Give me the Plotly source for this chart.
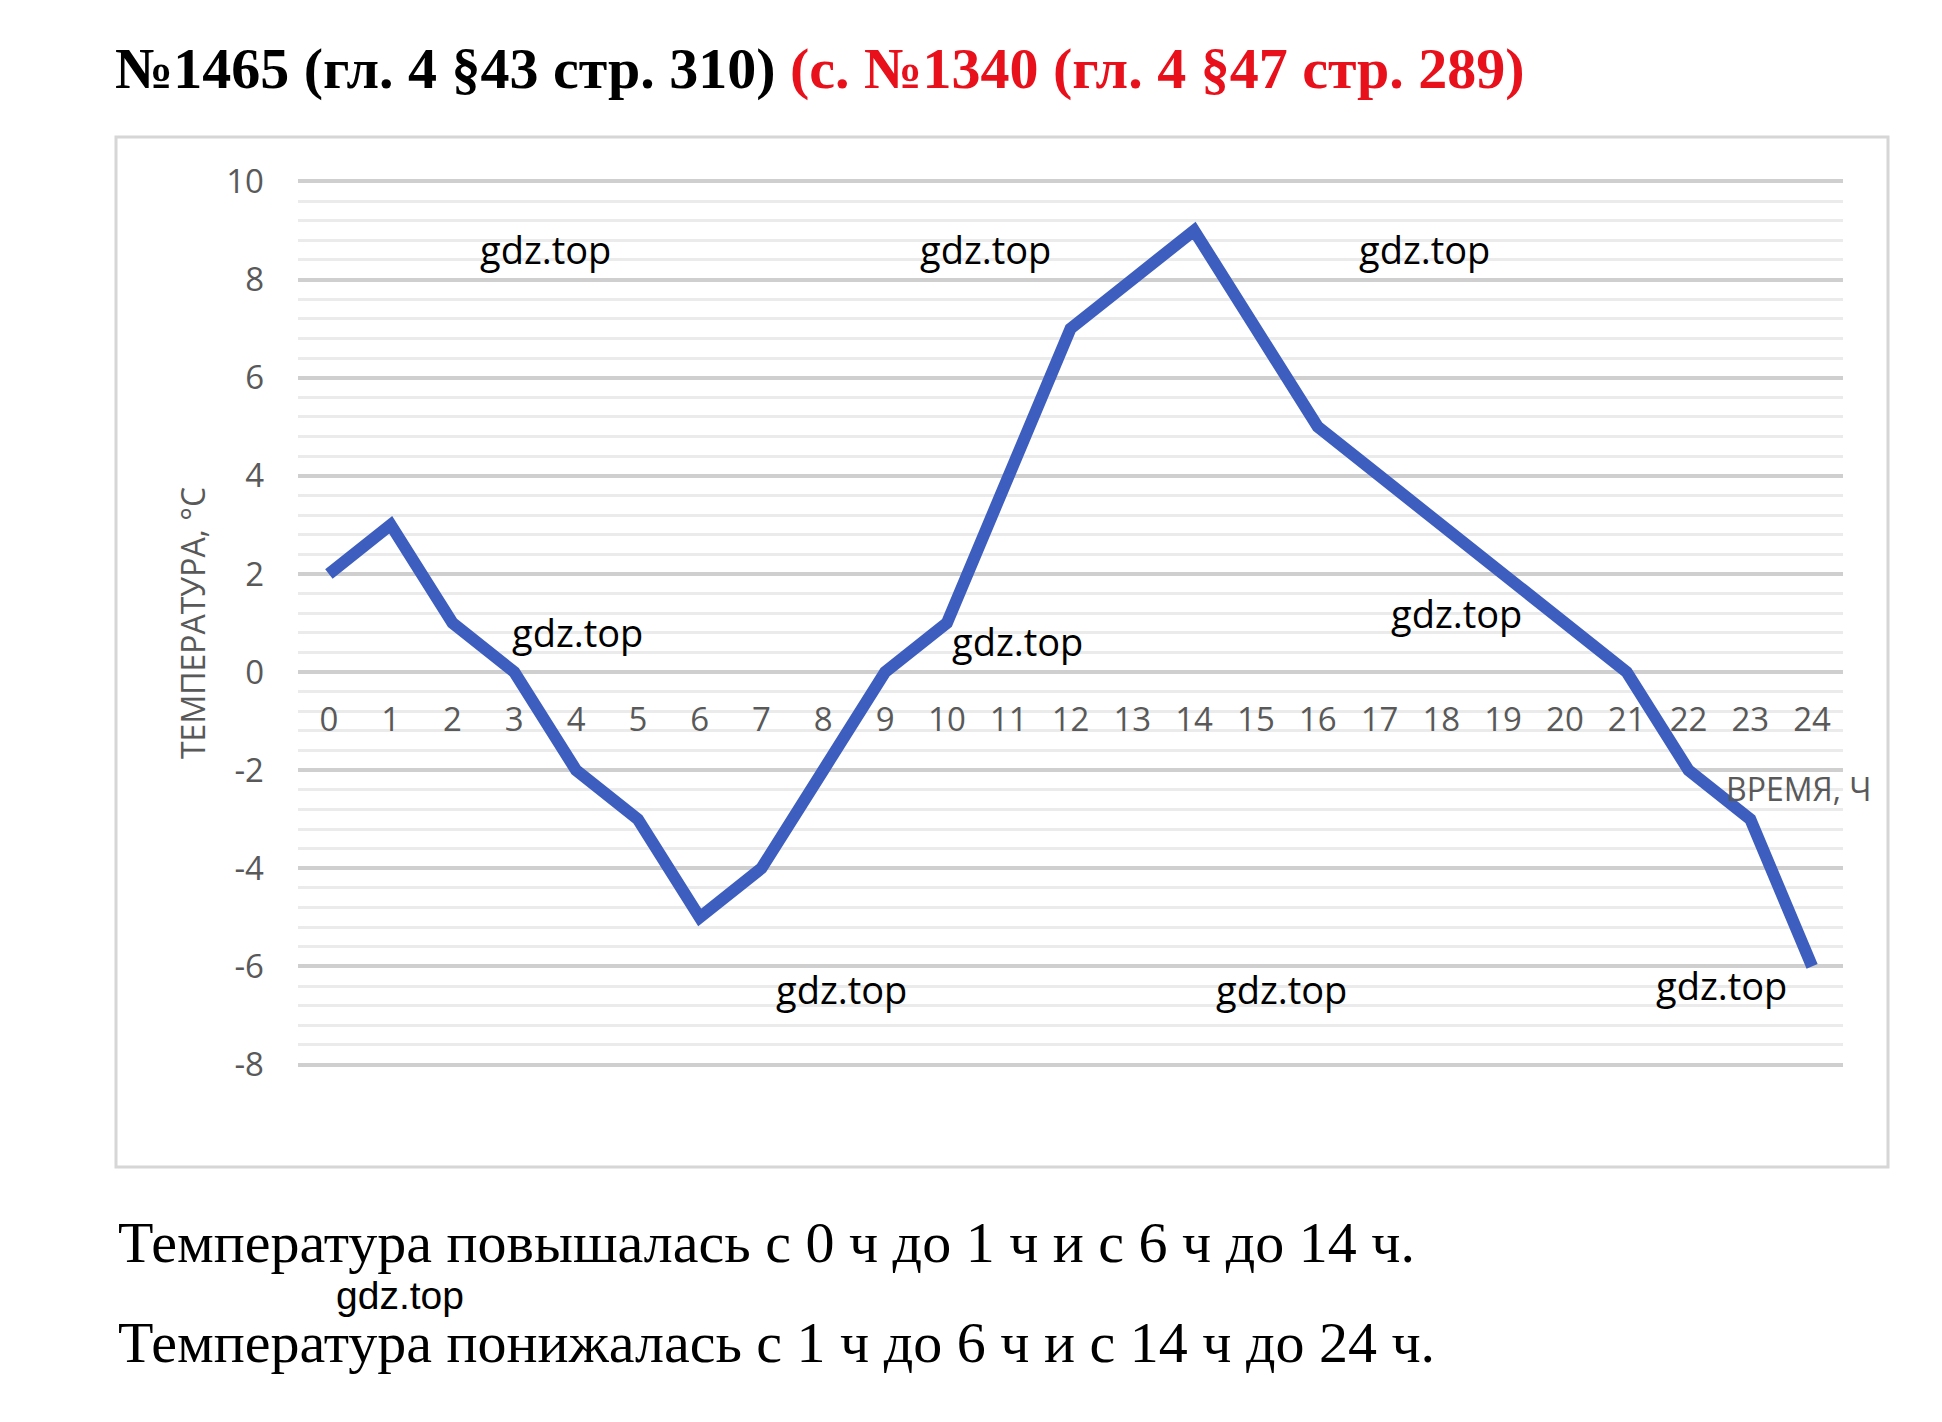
import plotly.graph_objects as go

# ---- data ----
hours = list(range(0, 25))
temps = [2, 3, 1, 0, -2, -3, -5, -4, -2, 0, 1, 4, 7, 8, 9, 7, 5, 4, 3, 2, 1, 0, -2, -3, -6]
ytick_vals = [10, 8, 6, 4, 2, 0, -2, -4, -6, -8]
ytick_text = ["10", "8", "6", "4", "2", "0", "-2", "-4", "-6", "-8"]
xtick_text = [str(h) for h in hours]

title_black = "№1465 (гл. 4 §43 стр. 310)"
title_red = "(с. №1340 (гл. 4 §47 стр. 289)"
y_title = "ТЕМПЕРАТУРА, °С"
x_title = "ВРЕМЯ, Ч"
line1 = "Температура повышалась с 0 ч до 1 ч и с 6 ч до 14 ч."
line2 = "Температура понижалась с 1 ч до 6 ч и с 14 ч до 24 ч."
wm = "gdz.top"

# ---- layout geometry (pixels) ----
W, H = 1942, 1422
L, R, T, B = 298, 1843, 180, 1066
YMIN, YMAX = -8, 10
PADY = 0.03


def px_x(p):
    return (p - L) / (R - L)


def px_y(p):
    return (B - p) / (B - T)


fig = go.Figure()
fig.add_trace(go.Scatter(
    x=hours, y=temps, mode="lines",
    line=dict(color="#3D5EBE", width=12),
    hoverinfo="skip", showlegend=False,
))

grey = "#595959"
fig.update_layout(
    width=W, height=H,
    margin=dict(l=L, r=W - R, t=T, b=H - B, pad=0),
    paper_bgcolor="white", plot_bgcolor="white",
    showlegend=False,
    xaxis=dict(
        range=[-0.5, 24.5], tickmode="array", tickvals=hours, ticktext=xtick_text,
        showgrid=False, zeroline=False, showline=False, ticks="",
        anchor="free", position=(0 - (YMIN - PADY)) / ((YMAX + PADY) - (YMIN - PADY)),
        tickfont=dict(family="Open Sans", size=33, color=grey),
        ticklabelstandoff=25,
    ),
    yaxis=dict(
        range=[YMIN - PADY, YMAX + PADY], tickmode="array", tickvals=ytick_vals, ticktext=ytick_text,
        showgrid=True, gridcolor="#cfcfcf", gridwidth=4,
        zeroline=False, showline=False, ticks="",
        tickfont=dict(family="Open Sans", size=33, color=grey),
        ticklabelstandoff=33,
        minor=dict(tickmode="linear", tick0=0, dtick=0.4, showgrid=True,
                   gridcolor="#ebebeb", gridwidth=3, ticks=""),
    ),
)

# chart frame
fig.add_shape(type="rect", xref="paper", yref="paper",
              x0=px_x(116), x1=px_x(1888), y0=px_y(1167), y1=px_y(137),
              line=dict(color="#d6d6d6", width=3), layer="below")

ann = []
# title
ann.append(dict(
    text="<b>" + title_black + "</b> <b><span style='color:#e8101a'>" + title_red + "</span></b>",
    x=px_x(113), y=px_y(69), xref="paper", yref="paper", xanchor="left", yanchor="middle",
    showarrow=False, font=dict(family="Liberation Serif", size=58, color="black"),
))
# axis titles
ann.append(dict(text=y_title, x=px_x(192), y=0.5, xref="paper", yref="paper",
                textangle=-90, xanchor="center", yanchor="middle", showarrow=False,
                font=dict(family="Open Sans", size=32, color=grey)))
ann.append(dict(text=x_title, x=px_x(1874), y=px_y(788), xref="paper", yref="paper",
                xanchor="right", yanchor="middle", showarrow=False,
                font=dict(family="Open Sans", size=32, color=grey)))
# watermarks
wm_pos = [(545, 249), (985, 249), (1424, 249), (577, 632), (1017, 641), (1456, 613),
          (841, 989), (1281, 989), (1721, 985)]
for (px, py) in wm_pos:
    ann.append(dict(text=wm, x=px_x(px), y=px_y(py), xref="paper", yref="paper",
                    xanchor="center", yanchor="middle", showarrow=False,
                    font=dict(family="Open Sans", size=38, color="black")))
ann.append(dict(text=wm, x=px_x(400), y=px_y(1295), xref="paper", yref="paper",
                xanchor="center", yanchor="middle", showarrow=False,
                font=dict(family="Liberation Sans", size=39, color="black")))
# bottom text
ann.append(dict(text=line1, x=px_x(116), y=px_y(1242), xref="paper", yref="paper",
                xanchor="left", yanchor="middle", showarrow=False,
                font=dict(family="Liberation Serif", size=58, color="black")))
ann.append(dict(text=line2, x=px_x(116), y=px_y(1342), xref="paper", yref="paper",
                xanchor="left", yanchor="middle", showarrow=False,
                font=dict(family="Liberation Serif", size=58, color="black")))
fig.update_layout(annotations=ann)

fig.write_html("out.html")
